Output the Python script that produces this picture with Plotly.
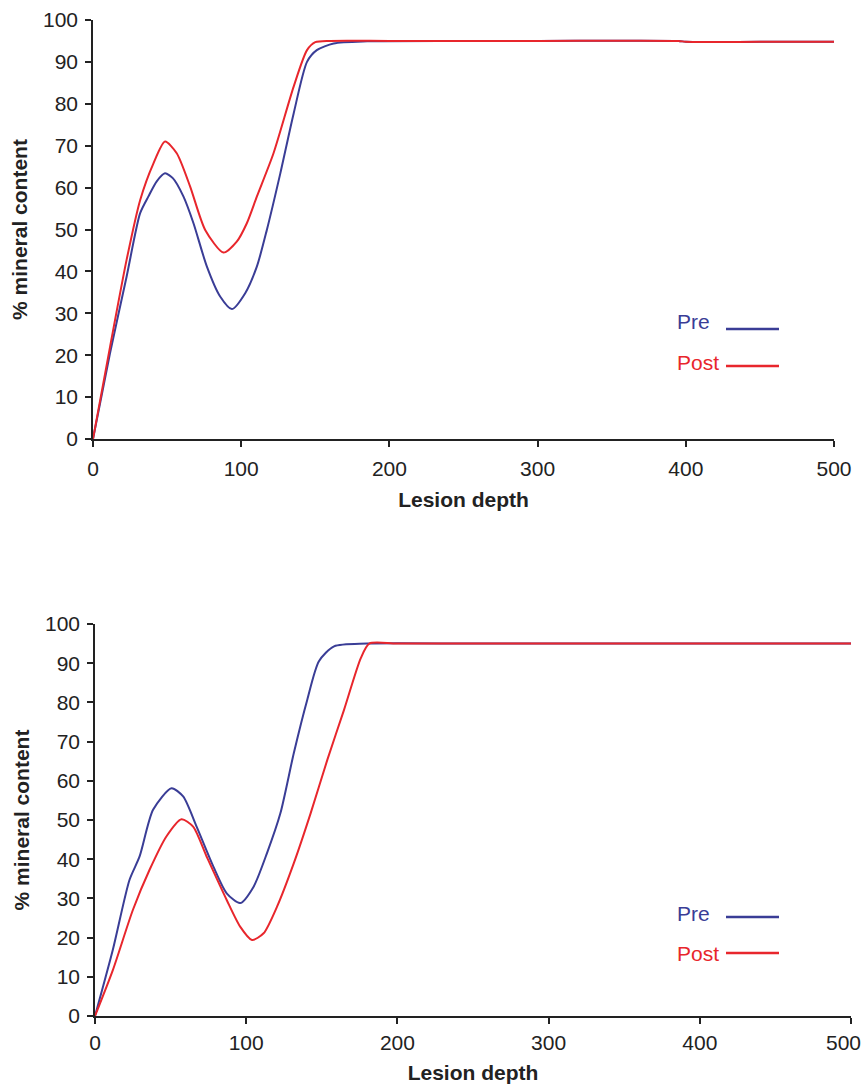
import plotly.graph_objects as go

# ---- data ----
top_pre_x = [0, 11.5, 22.7, 31.8, 37.4, 43, 48.6, 54, 61, 67.8, 76.8, 85.8, 93.7, 102.7, 110.6, 117.3, 126.4, 135.4, 144.4, 151, 162.4, 185, 250, 300, 395, 400, 450, 500]
top_pre_y = [0, 20.5, 38.8, 53.9, 57.9, 61.5, 63.4, 62.2, 57.9, 51.5, 41.2, 34, 31, 34.8, 41.2, 49.9, 63.4, 77.7, 90, 92.8, 94.4, 94.9, 95, 95, 95, 94.8, 94.8, 94.8]

top_post_x = [0, 11.5, 22.7, 31.8, 40.8, 48.6, 56.5, 65.5, 75.7, 88, 97, 103.8, 110.6, 121.8, 135.4, 144.4, 150, 160, 200, 300, 395, 400, 450, 500]
top_post_y = [0, 22, 42.8, 57, 65.8, 71, 68.2, 60.3, 49.9, 44.5, 47.1, 51.5, 57.9, 68.2, 84.1, 92.8, 94.7, 95, 95, 95, 95, 94.8, 94.8, 94.8]

bot_pre_x = [0, 11.8, 22.8, 29.5, 38.4, 50.6, 58.3, 67.2, 78.3, 87.1, 96, 104.9, 113.7, 122.6, 131.5, 140.4, 148.1, 158.1, 180, 250, 350, 450, 500]
bot_pre_y = [0, 16.9, 34.7, 40.7, 52.6, 58.1, 56, 48.3, 38.1, 31.3, 28.8, 33, 41.5, 51.7, 67.1, 80.7, 90.5, 94.3, 95, 95, 95, 95, 95]

bot_post_x = [0, 11.8, 25.1, 36.1, 47.2, 57.2, 64.9, 73.8, 87.1, 96, 103.8, 111.5, 120.4, 131.5, 142.6, 153.7, 164.7, 175.8, 181.4, 200, 300, 400, 500]
bot_post_y = [0, 11.7, 27.1, 37.3, 45.8, 50.2, 48.3, 40.7, 29.6, 22.8, 19.4, 21.1, 27.9, 39, 51.7, 65.4, 78.1, 91.3, 95, 95, 95, 95, 95]

x_ticks = [0, 100, 200, 300, 400, 500]
x_tick_labels = ["0", "100", "200", "300", "400", "500"]
y_ticks = [0, 10, 20, 30, 40, 50, 60, 70, 80, 90, 100]

BLUE = "#3a3d96"
RED = "#e8262c"
INK = "#222222"
FONT = "Liberation Sans, Arial, sans-serif"

fig = go.Figure()
line_kw = dict(width=2, shape="spline", smoothing=0.7)
fig.add_trace(go.Scatter(x=top_pre_x, y=top_pre_y, mode="lines", line=dict(color=BLUE, **line_kw), xaxis="x", yaxis="y"))
fig.add_trace(go.Scatter(x=top_post_x, y=top_post_y, mode="lines", line=dict(color=RED, **line_kw), xaxis="x", yaxis="y"))
fig.add_trace(go.Scatter(x=bot_pre_x, y=bot_pre_y, mode="lines", line=dict(color=BLUE, **line_kw), xaxis="x2", yaxis="y2"))
fig.add_trace(go.Scatter(x=bot_post_x, y=bot_post_y, mode="lines", line=dict(color=RED, **line_kw), xaxis="x2", yaxis="y2"))

W, H = 866, 1084

def px_x(p):
    return p / W

def px_y(p):
    return 1 - p / H

axis_common = dict(showgrid=False, zeroline=False, showline=True, linecolor=INK, linewidth=1.5,
                   ticks="outside", ticklen=6, tickcolor=INK, tickwidth=1.5,
                   tickfont=dict(family=FONT, size=21, color=INK))

xa = dict(axis_common, range=[0, 500], tickvals=x_ticks)
ya = dict(axis_common, range=[0, 100], tickvals=y_ticks, ticklabelstandoff=3,
          title=dict(text="<b>% mineral content</b>", font=dict(family=FONT, size=21, color=INK), standoff=10))

# the last label of the lower axis sits against the page edge: drawn separately, nudged left
bottom_labels = x_tick_labels[:-1] + [""]

fig.update_layout(
    width=W, height=H,
    margin=dict(l=0, r=0, t=0, b=0, autoexpand=False),
    paper_bgcolor="white", plot_bgcolor="white",
    showlegend=False,
    xaxis=dict(xa, domain=[px_x(93), px_x(834)], anchor="y", ticktext=x_tick_labels, ticklabelstandoff=4,
               title=dict(text="<b>Lesion depth</b>", font=dict(family=FONT, size=21, color=INK), standoff=13)),
    yaxis=dict(ya, domain=[px_y(439), px_y(20)], anchor="x"),
    xaxis2=dict(xa, domain=[px_x(95), px_x(851)], anchor="y2", ticktext=bottom_labels, ticklabelstandoff=1,
                title=dict(text="<b>Lesion depth</b>", font=dict(family=FONT, size=21, color=INK), standoff=12)),
    yaxis2=dict(ya, domain=[px_y(1016), px_y(624)], anchor="x2"),
)

fig.add_annotation(text=x_tick_labels[-1], x=x_ticks[-1], xref="x2", y=px_y(1042), yref="paper",
                   xanchor="center", yanchor="middle", xshift=-8, showarrow=False,
                   font=dict(family=FONT, size=21, color=INK))

# legends (text left, line right)
legend_items = [
    ("Pre", BLUE, 675, 322, 329),
    ("Post", RED, 675, 363, 366),
    ("Pre", BLUE, 675, 913, 917),
    ("Post", RED, 675, 953, 953),
]
for text, col, tx, ty, ly in legend_items:
    fig.add_annotation(text=text, x=px_x(tx), y=px_y(ty), xref="paper", yref="paper",
                       xanchor="left", yanchor="middle", showarrow=False,
                       font=dict(family=FONT, size=21, color=col))
    fig.add_shape(type="line", xref="paper", yref="paper", x0=px_x(726), x1=px_x(779),
                  y0=px_y(ly), y1=px_y(ly), line=dict(color=col, width=2.5))

fig.write_html("out.html", config={"displayModeBar": False},
               post_script="document.body.style.margin='0px';document.body.style.overflow='hidden';")
